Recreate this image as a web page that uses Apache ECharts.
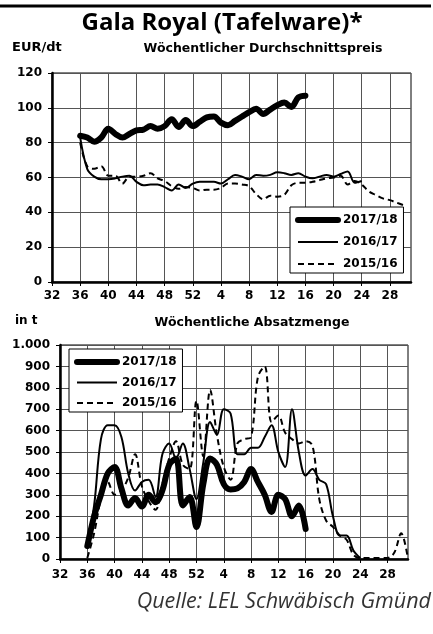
<!DOCTYPE html>
<html>
<head>
<meta charset="utf-8">
<script src="https://cdn.jsdelivr.net/npm/echarts@6/dist/echarts.min.js"></script>
<style>
  html, body { margin: 0; padding: 0; background: #fff; }
  #chart { width: 433px; height: 634px; }
</style>
</head>
<body>
<div id="chart"></div>
<script>
// Kalenderwochen (Saison Wo 32 bis Wo 31)
var weeks = ['32', '33', '34', '35', '36', '37', '38', '39', '40', '41', '42', '43', '44', '45', '46', '47', '48', '49', '50', '51', '52',
  '1', '2', '3', '4', '5', '6', '7', '8', '9', '10', '11', '12', '13', '14', '15', '16', '17', '18', '19', '20',
  '21', '22', '23', '24', '25', '26', '27', '28', '29', '30', '31']
var seasons = ['2017/18', '2016/17', '2015/16']
var startWeek = '36'

// Wöchentlicher Durchschnittspreis EUR/dt, ab Wo 36
var price1718 = [84, 83, 80.5, 83, 88, 85, 83, 85, 87, 87.5, 89.5, 88, 89.5, 93.5, 89, 93, 89.5,
  92, 94.5, 95, 91.5, 90, 92.5, 95, 97.5, 99.5, 96.5, 99, 101.5, 103, 100.5, 106, 107]
var price1617 = [83, 65, 60.5, 59, 59, 59.5, 60.5, 61, 57.5, 55.5, 56, 56, 54.5, 52.5, 56, 54, 56.5,
  57.5, 57.5, 57.5, 56.5, 59, 61.5, 60.5, 59, 61.5, 61, 61.5, 63, 62.5, 61.5, 62.5, 60.5, 59.5, 60.5,
  61.5, 60.5, 62, 63.5, 57, 58]
var price1516 = [80, 66.5, 65, 66.5, 61, 61, 56.5, 60.5, 60.5, 61, 62.5, 59.5, 58, 55, 53.5, 54.5, 54,
  52.5, 53, 53, 54, 56.5, 56.5, 56, 55, 50.5, 47.5, 49.5, 49, 50, 55.5, 57, 57, 57.5, 58.5, 59.5, 60,
  61, 56, 58, 56, 52, 50, 48, 47, 45.5, 44]

// Wöchentliche Absatzmenge in t, ab Wo 36
var qty1718 = [60, 200, 300, 400, 430, 330, 250, 285, 245, 300, 265, 320, 440, 470, 250, 290, 150,
  350, 470, 440, 350, 325, 330, 360, 420, 360, 300, 220, 300, 280, 200, 250, 140]
var qty1617 = [70, 250, 560, 625, 625, 570, 400, 320, 360, 370, 290, 490, 540, 470, 540, 420, 280,
  450, 640, 580, 700, 680, 490, 490, 520, 520, 570, 625, 500, 430, 700, 500, 390, 420, 370, 350, 200,
  110, 110, 40, 5]
var qty1516 = [5, 120, 280, 360, 300, 320, 380, 490, 340, 270, 230, 350, 470, 550, 440, 420, 740,
  480, 790, 580, 430, 370, 540, 560, 570, 850, 900, 640, 670, 590, 560, 540, 550, 530, 280, 180, 150,
  110, 90, 20, 5, 5, 5, 5, 5, 30, 120, 0]

var labelFont = 'DejaVu Sans'

function pad (values) {
  var lead = weeks.indexOf(startWeek)
  var out = []
  for (var i = 0; i < lead; i++) out.push('-')
  return out.concat(values)
}

var lineStyles = [
  { color: '#000', width: 6, cap: 'round', join: 'round' },
  { color: '#000', width: 2 },
  { color: '#000', width: 2, type: [6, 4] }
]

function makeSeries (gridIdx, lists) {
  return lists.map(function (vals, i) {
    return {
      name: seasons[i],
      type: 'line',
      xAxisIndex: gridIdx,
      yAxisIndex: gridIdx,
      data: pad(vals),
      smooth: 0.35,
      symbol: 'none',
      itemStyle: { color: '#000' },
      lineStyle: lineStyles[i],
      z: 10 - i
    }
  })
}

function xAxisFor (gridIdx, margin) {
  return {
    type: 'category',
    gridIndex: gridIdx,
    data: weeks,
    boundaryGap: false,
    axisLine: { lineStyle: { color: '#000', width: 2.5 } },
    axisTick: { show: true, interval: 3, length: 4, lineStyle: { color: '#000' } },
    axisLabel: { interval: 3, margin: margin, color: '#000', fontFamily: labelFont, fontWeight: 'bold', fontSize: 12 },
    splitLine: { show: true, interval: 3, lineStyle: { color: '#555', width: 1 } }
  }
}

function yAxisFor (gridIdx, max, step, fmt) {
  return {
    type: 'value',
    gridIndex: gridIdx,
    min: 0,
    max: max,
    interval: step,
    axisLine: { show: true, lineStyle: { color: '#000', width: 2.5 } },
    axisTick: { show: true, length: 4, lineStyle: { color: '#000' } },
    axisLabel: { margin: 10, color: '#000', fontFamily: labelFont, fontWeight: 'bold', fontSize: 12, formatter: fmt },
    splitLine: { lineStyle: { color: '#555', width: 1 } }
  }
}

function legendAt (left, top, gap) {
  return {
    data: seasons.map(function (name, i) {
      return { name: name, lineStyle: { width: lineStyles[i].width, type: lineStyles[i].type || 'solid', cap: lineStyles[i].cap || 'butt' } }
    }),
    orient: 'vertical',
    left: left,
    top: top,
    itemWidth: 40,
    itemHeight: 14,
    itemGap: gap,
    padding: [7, 6, 3, 5],
    backgroundColor: '#fff',
    borderColor: '#000',
    borderWidth: 1,
    selectedMode: false,
    itemStyle: { color: 'rgba(0,0,0,0)', borderWidth: 0 },
    textStyle: { color: '#000', fontFamily: labelFont, fontWeight: 'bold', fontSize: 12 }
  }
}

function txt (text, x, y, font, align, color) {
  return {
    type: 'text',
    x: x,
    y: y,
    style: {
      text: text,
      font: font,
      fill: color || '#000',
      align: align,
      textAlign: align,
      verticalAlign: 'middle',
      textVerticalAlign: 'middle'
    }
  }
}

var chart = echarts.init(document.getElementById('chart'), null, { renderer: 'canvas' })

var option = {
  animation: false,
  backgroundColor: '#fff',
  grid: [
    { left: 52, top: 73, width: 359, height: 209, show: true, borderColor: '#000', borderWidth: 1, backgroundColor: 'transparent' },
    { left: 60, top: 345, width: 348, height: 214, show: true, borderColor: '#000', borderWidth: 1, backgroundColor: 'transparent' }
  ],
  xAxis: [xAxisFor(0, 8), xAxisFor(1, 10)],
  yAxis: [
    yAxisFor(0, 120, 20),
    yAxisFor(1, 1000, 100, function (v) { return v === 1000 ? '1.000' : String(v) })
  ],
  legend: [legendAt(290, 207, 10), legendAt(69, 349, 8.5)],
  graphic: [
    { type: 'line', shape: { x1: 0, y1: 6, x2: 431, y2: 6 }, style: { stroke: '#000', lineWidth: 3 } },
    txt('Gala Royal (Tafelware)*', 222, 23, 'bold 24px "Open Sans"', 'center'),
    txt('EUR/dt', 12, 48, 'bold 13px "DejaVu Sans"', 'left'),
    txt('Wöchentlicher Durchschnittspreis', 263, 49, 'bold 12.5px "DejaVu Sans"', 'center'),
    txt('in t', 15, 321, 'bold 12px "DejaVu Sans"', 'left'),
    txt('Wöchentliche Absatzmenge', 252, 323, 'bold 12.5px "DejaVu Sans"', 'center'),
    txt('Quelle: LEL Schwäbisch Gmünd', 431, 602, 'italic 21.5px "Open Sans"', 'right', '#333')
  ],
  series: makeSeries(0, [price1718, price1617, price1516])
    .concat(makeSeries(1, [qty1718, qty1617, qty1516]))
}

chart.setOption(option)
</script>
</body>
</html>
